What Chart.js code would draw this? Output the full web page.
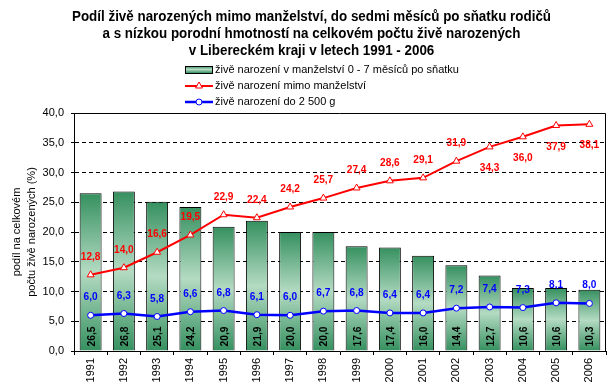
<!DOCTYPE html>
<html>
<head>
<meta charset="utf-8">
<script src="https://cdn.jsdelivr.net/npm/chart.js@4.4.0/dist/chart.umd.min.js"></script>
<style>
  html, body { margin: 0; padding: 0; background: #fff; }
</style>
</head>
<body>
<canvas id="graf" width="611" height="390"></canvas>
<script>
// Data z grafu
const roky = ['1991', '1992', '1993', '1994', '1995', '1996', '1997', '1998',
              '1999', '2000', '2001', '2002', '2003', '2004', '2005', '2006'];
const vManzelstvi = [26.5, 26.8, 25.1, 24.2, 20.9, 21.9, 20.0, 20.0, 17.6, 17.4, 16.0, 14.4, 12.7, 10.6, 10.6, 10.3];
const mimoManzelstvi = [12.8, 14.0, 16.6, 19.5, 22.9, 22.4, 24.2, 25.7, 27.4, 28.6, 29.1, 31.9, 34.3, 36.0, 37.9, 38.1];
const do2500g = [6.0, 6.3, 5.8, 6.6, 6.8, 6.1, 6.0, 6.7, 6.8, 6.4, 6.4, 7.2, 7.4, 7.3, 8.1, 8.0];

// u kterych let je popisek cervene rady pod bodem
const cervenePod = [false, false, false, false, false, false, false, false,
                    false, false, false, false, true, true, true, true];

const nazvySerii = [
  'živě narození v manželství 0 - 7 měsíců po sňatku',
  'živě narození mimo manželství',
  'živě narození do 2 500 g'
];
const nadpis = [
  'Podíl živě narozených mimo manželství, do sedmi měsíců po sňatku rodičů',
  'a s nízkou porodní hmotností na celkovém počtu živě narozených',
  'v Libereckém kraji v letech 1991 - 2006'
];
const popisOsyY = ['podíl na celkovém', 'počtu živě narozených (%)'];

const PISMO = '"Liberation Sans", Arial, sans-serif';
const ZELENA_TMAVA = '#35905f';
const ZELENA_SVETLA = '#b4dbc3';

// formát čísla s desetinnou čárkou
function cislo(v) {
  return v.toFixed(1).replace('.', ',');
}

// Přechod na sloupcích - tmavá nahoře a dole, světlá uprostřed
function zelenyPrechod(context) {
  const chart = context.chart;
  if (!chart.chartArea || context.type !== 'data') return ZELENA_TMAVA;
  const y = chart.scales.y;
  const horni = y.getPixelForValue(context.raw);
  const dolni = y.getPixelForValue(0);
  const g = chart.ctx.createLinearGradient(0, horni, 0, dolni);
  g.addColorStop(0, ZELENA_TMAVA);
  g.addColorStop(0.5, ZELENA_SVETLA);
  g.addColorStop(1, ZELENA_TMAVA);
  return g;
}

// Popisky hodnot, nadpis, legenda
const popiskyPlugin = {
  id: 'popisky',
  afterDatasetsDraw(chart) {
    const ctx = chart.ctx;
    const sloupce = chart.getDatasetMeta(0).data;
    const cervene = chart.getDatasetMeta(1).data;
    const modre = chart.getDatasetMeta(2).data;

    ctx.save();
    ctx.font = 'bold 11px ' + PISMO;
    ctx.textBaseline = 'middle';

    // hodnoty ve sloupcích, otočené
    ctx.fillStyle = '#000';
    ctx.textAlign = 'left';
    sloupce.forEach((el, i) => {
      ctx.save();
      ctx.translate(el.x + 1, el.base - 4);
      ctx.rotate(-Math.PI / 2);
      ctx.scale(0.93, 1);
      ctx.fillText(cislo(vManzelstvi[i]), 0, 0);
      ctx.restore();
    });

    ctx.textAlign = 'center';
    ctx.fillStyle = '#ff0000';
    cervene.forEach((el, i) => {
      const dy = cervenePod[i] ? 21 : -18;
      ctx.save();
      ctx.translate(el.x, el.y + dy);
      ctx.scale(0.92, 1);
      ctx.fillText(cislo(mimoManzelstvi[i]), 0, 0);
      ctx.restore();
    });

    ctx.fillStyle = '#0000ff';
    modre.forEach((el, i) => {
      ctx.save();
      ctx.translate(el.x, el.y - 18);
      ctx.scale(0.92, 1);
      ctx.fillText(cislo(do2500g[i]), 0, 0);
      ctx.restore();
    });
    ctx.restore();
  },

  afterDraw(chart) {
    const ctx = chart.ctx;
    const a = chart.chartArea;
    ctx.save();

    // rámeček nahoře a vpravo
    ctx.strokeStyle = '#000';
    ctx.lineWidth = 1;
    ctx.beginPath();
    ctx.moveTo(a.left, a.top + 0.5);
    ctx.lineTo(a.right - 0.5, a.top + 0.5);
    ctx.lineTo(a.right - 0.5, a.bottom);
    ctx.stroke();

    // nadpis
    ctx.fillStyle = '#000';
    ctx.font = 'bold 14px ' + PISMO;
    ctx.textBaseline = 'middle';
    ctx.textAlign = 'center';
    const k = 479 / ctx.measureText(nadpis[0]).width;
    nadpis.forEach((radek, i) => {
      ctx.save();
      ctx.translate(311.5, 17 + i * 17);
      ctx.scale(k, 1);
      ctx.fillText(radek, 0, 0);
      ctx.restore();
    });

    // legenda
    ctx.font = '11px ' + PISMO;
    ctx.textAlign = 'left';
    const lx = 185, tx = 215;
    const ly = [69.5, 86, 102];

    const g = ctx.createLinearGradient(0, 66, 0, 73);
    g.addColorStop(0, ZELENA_TMAVA);
    g.addColorStop(0.5, ZELENA_SVETLA);
    g.addColorStop(1, ZELENA_TMAVA);
    ctx.fillStyle = g;
    ctx.fillRect(lx, 66, 27, 7);
    ctx.strokeStyle = '#000';
    ctx.strokeRect(lx + 0.5, 66.5, 27, 7);

    ctx.lineWidth = 2;
    ctx.strokeStyle = '#ff0000';
    ctx.beginPath();
    ctx.moveTo(lx, ly[1]);
    ctx.lineTo(lx + 28, ly[1]);
    ctx.stroke();
    ctx.fillStyle = '#fff';
    ctx.lineWidth = 1;
    Chart.helpers.drawPoint(ctx, { pointStyle: 'triangle', radius: 4, rotation: 0, borderWidth: 1 }, lx + 14, ly[1]);

    ctx.lineWidth = 2.5;
    ctx.strokeStyle = '#0000ff';
    ctx.beginPath();
    ctx.moveTo(lx, ly[2]);
    ctx.lineTo(lx + 28, ly[2]);
    ctx.stroke();
    ctx.fillStyle = '#fff';
    ctx.lineWidth = 1;
    Chart.helpers.drawPoint(ctx, { pointStyle: 'circle', radius: 3, rotation: 0, borderWidth: 1 }, lx + 14, ly[2]);

    ctx.fillStyle = '#000';
    nazvySerii.forEach((t, i) => ctx.fillText(t, tx, ly[i]));

    // popis osy Y
    ctx.textAlign = 'center';
    const stred = (a.top + a.bottom) / 2;
    popisOsyY.forEach((t, i) => {
      ctx.save();
      ctx.translate(17 + i * 15, stred);
      ctx.rotate(-Math.PI / 2);
      ctx.fillText(t, 0, 0);
      ctx.restore();
    });

    ctx.restore();
  }
};

const data = {
  labels: roky,
  datasets: [
    {
      type: 'bar',
      label: nazvySerii[0],
      data: vManzelstvi,
      backgroundColor: zelenyPrechod,
      borderColor: '#000',
      borderWidth: 1,
      barPercentage: 0.66,
      categoryPercentage: 1,
      order: 3
    },
    {
      type: 'line',
      label: nazvySerii[1],
      data: mimoManzelstvi,
      borderColor: '#ff0000',
      borderWidth: 2,
      pointStyle: 'triangle',
      pointRadius: 4,
      pointBackgroundColor: '#fff',
      pointBorderColor: '#ff0000',
      pointBorderWidth: 1,
      tension: 0,
      order: 2
    },
    {
      type: 'line',
      label: nazvySerii[2],
      data: do2500g,
      borderColor: '#0000ff',
      borderWidth: 2.5,
      pointStyle: 'circle',
      pointRadius: 3,
      pointBackgroundColor: '#fff',
      pointBorderColor: '#0000ff',
      pointBorderWidth: 1,
      tension: 0,
      order: 1
    }
  ]
};

const config = {
  type: 'bar',
  data: data,
  options: {
    responsive: false,
    devicePixelRatio: 1,
    animation: false,
    layout: { padding: { top: 113, right: 5, left: 0, bottom: 0 } },
    plugins: {
      legend: { display: false },
      title: { display: false },
      tooltip: { enabled: false }
    },
    scales: {
      x: {
        offset: true,
        afterFit: s => { s.height = 39; },
        grid: {
          offset: true,
          drawOnChartArea: false,
          drawTicks: true,
          tickLength: 4,
          color: '#000',
          tickColor: '#000'
        },
        border: { color: '#000', width: 1 },
        ticks: {
          minRotation: 90,
          maxRotation: 90,
          padding: 3,
          color: '#000',
          font: { family: PISMO, size: 11 }
        }
      },
      y: {
        min: 0,
        max: 40,
        afterFit: s => { s.width = 74; },
        grid: {
          color: '#000',
          lineWidth: 1,
          tickLength: 3,
          tickColor: '#000',
          tickBorderDash: []
        },
        border: { color: '#000', width: 1, dash: [4, 3] },
        ticks: {
          stepSize: 5,
          padding: 7,
          color: '#000',
          font: { family: PISMO, size: 11 },
          callback: v => cislo(v)
        }
      }
    }
  },
  plugins: [popiskyPlugin]
};

new Chart(document.getElementById('graf'), config);
</script>
</body>
</html>
